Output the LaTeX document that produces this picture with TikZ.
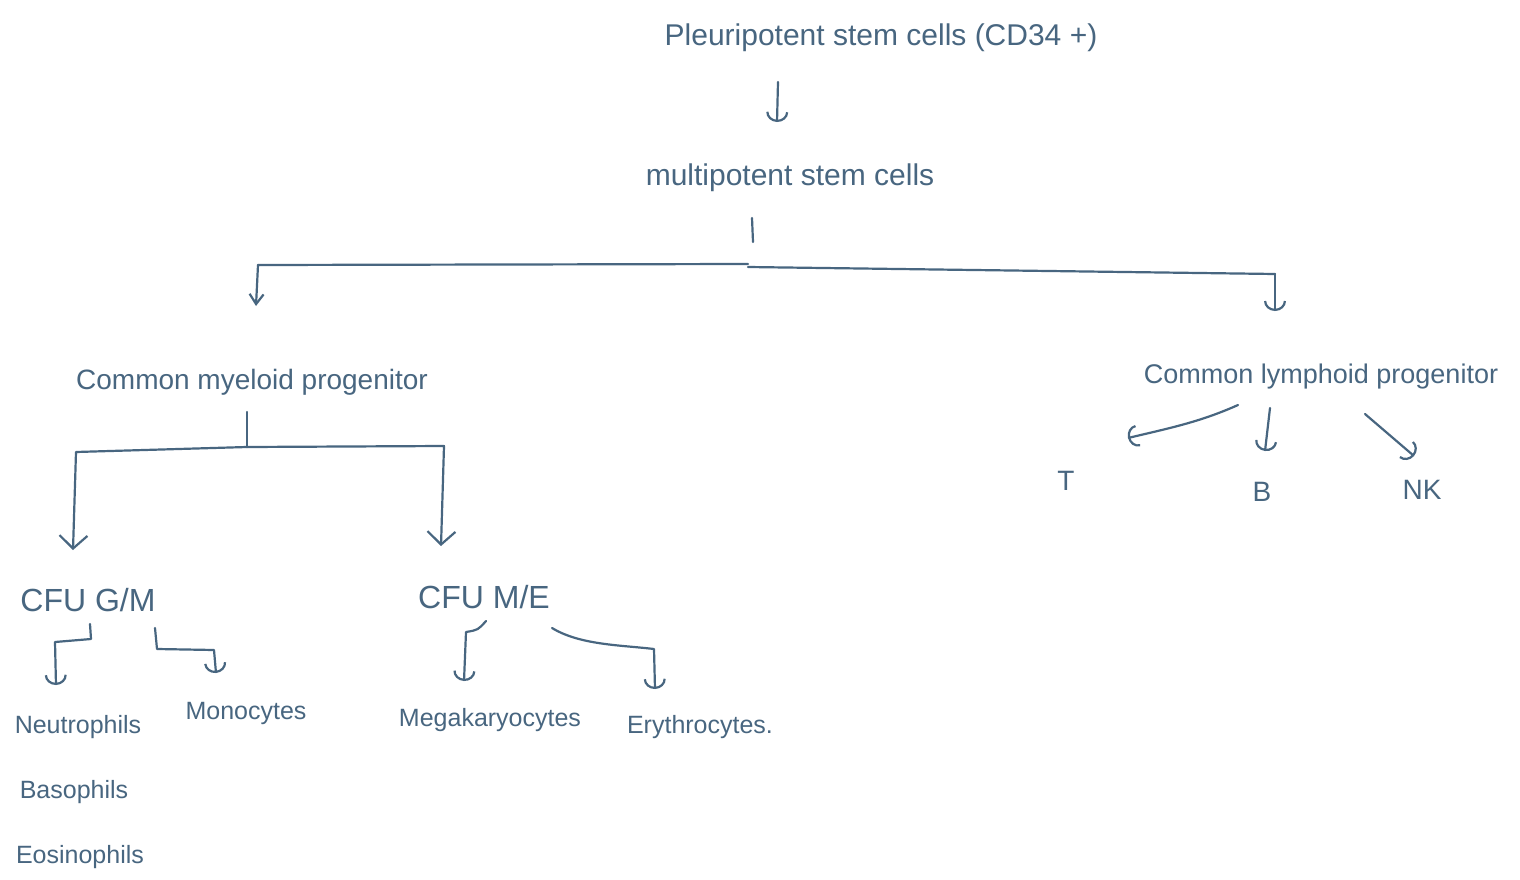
\documentclass[tikz,border=0pt]{standalone}
\usepackage{fontspec}
\setmainfont{Liberation Sans}
\usetikzlibrary{arrows.meta}
\definecolor{ink}{RGB}{72,102,128}
\begin{document}
\begin{tikzpicture}[x=1pt, y=-1pt, draw=ink, line width=2.2pt,
  line cap=round, line join=round,
  lbl/.style={text=ink, inner sep=0pt, font=\fontsize{#1}{#1}\selectfont},
  cup/.style={-{Arc Barb[length=10pt, width=22pt, arc=180]}},
  smallvee/.style={-{Straight Barb[length=10pt, width=14pt]}},
  vee/.style={-{Straight Barb[length=13pt, width=28pt]}}]
\fill[white] (0,0) rectangle (1520,880);
\useasboundingbox (0,0) rectangle (1520,880);

% cell labels
\node[lbl=30] (ps)  at (881,38)  {Pleuripotent stem cells (CD34 +)};
\node[lbl=30] (ms)  at (790,178) {multipotent stem cells};
\node[lbl=28] (cmp) at (252,382) {Common myeloid progenitor};
\node[lbl=27] (clp) at (1321,377) {Common lymphoid progenitor};
\node[lbl=28] (t)   at (1066,481) {T};
\node[lbl=28] (b)   at (1262,492) {B};
\node[lbl=28] (nk)  at (1422,490) {NK};
\node[lbl=32] (gm)  at (88,600)  {CFU G/M};
\node[lbl=32] (me)  at (484,597) {CFU M/E};
\node[lbl=25] (neu) at (78,727)  {Neutrophils};
\node[lbl=25] (mono) at (246,713) {Monocytes};
\node[lbl=25] (baso) at (74,792) {Basophils};
\node[lbl=25] (eos) at (80,857)  {Eosinophils};
\node[lbl=25] (mega) at (490,720) {Megakaryocytes};
\node[lbl=25] (ery) at (700,727) {Erythrocytes.};

% pluripotent -> multipotent
\coordinate (psa) at (778,82);
\coordinate (psb) at (777,122);
\draw[cup] (psa) -- (psb);

% multipotent -> the two common progenitors
\coordinate (msa) at (752,218);
\coordinate (msb) at (753,242);
\coordinate (barl) at (258,265);
\coordinate (barm1) at (748,264);
\coordinate (barm2) at (748,267);
\coordinate (barr) at (1275,274);
\coordinate (cmpin) at (256,306);
\coordinate (clpin) at (1275,311);
\draw (msa) -- (msb);
\draw (barl) -- (barm1);
\draw (barm2) -- (barr);
\draw[smallvee] (barl) -- (cmpin);
\draw[cup] (barr) -- (clpin);

% common myeloid progenitor -> CFU G/M and CFU M/E
\coordinate (cmpa) at (247,412);
\coordinate (cmpj) at (247,447);
\coordinate (cmpl) at (76,452);
\coordinate (cmpr) at (444,446);
\coordinate (gmin) at (73,550);
\coordinate (mein) at (441,546);
\draw (cmpa) -- (cmpj);
\draw[vee] (cmpj) -- (cmpl) -- (gmin);
\draw[vee] (cmpj) -- (cmpr) -- (mein);

% common lymphoid progenitor -> T, B, NK
\coordinate (tl0) at (1238,405);
\coordinate (tl1) at (1128,438);
\coordinate (bl0) at (1270,408);
\coordinate (bl1) at (1265,451);
\coordinate (nk0) at (1365,414);
\coordinate (nk1) at (1414,456);
\draw[cup] (tl0) .. controls (1200,422) and (1170,428) .. (tl1);
\draw[cup] (bl0) -- (bl1);
\draw[cup] (nk0) -- (nk1);

% CFU G/M -> granulocytes and monocytes
\coordinate (gm0) at (90,624);
\coordinate (gm1) at (91,639);
\coordinate (gm2) at (55,642);
\coordinate (gm3) at (56,685);
\coordinate (gm4) at (155,628);
\coordinate (gm5) at (157,649);
\coordinate (gm6) at (214,650);
\coordinate (gm7) at (216,673);
\draw[cup] (gm0) -- (gm1) -- (gm2) -- (gm3);
\draw[cup] (gm4) -- (gm5) -- (gm6) -- (gm7);

% CFU M/E -> megakaryocytes and erythrocytes
\coordinate (me0) at (486,621);
\coordinate (me1) at (466,632);
\coordinate (me2) at (464,681);
\coordinate (me3) at (552,628);
\coordinate (me4) at (654,649);
\coordinate (me5) at (655,689);
\draw[cup] (me0) .. controls (478,630) .. (me1) -- (me2);
\draw[cup] (me3) .. controls (580,645) and (620,645) .. (me4) -- (me5);
\end{tikzpicture}
\end{document}
